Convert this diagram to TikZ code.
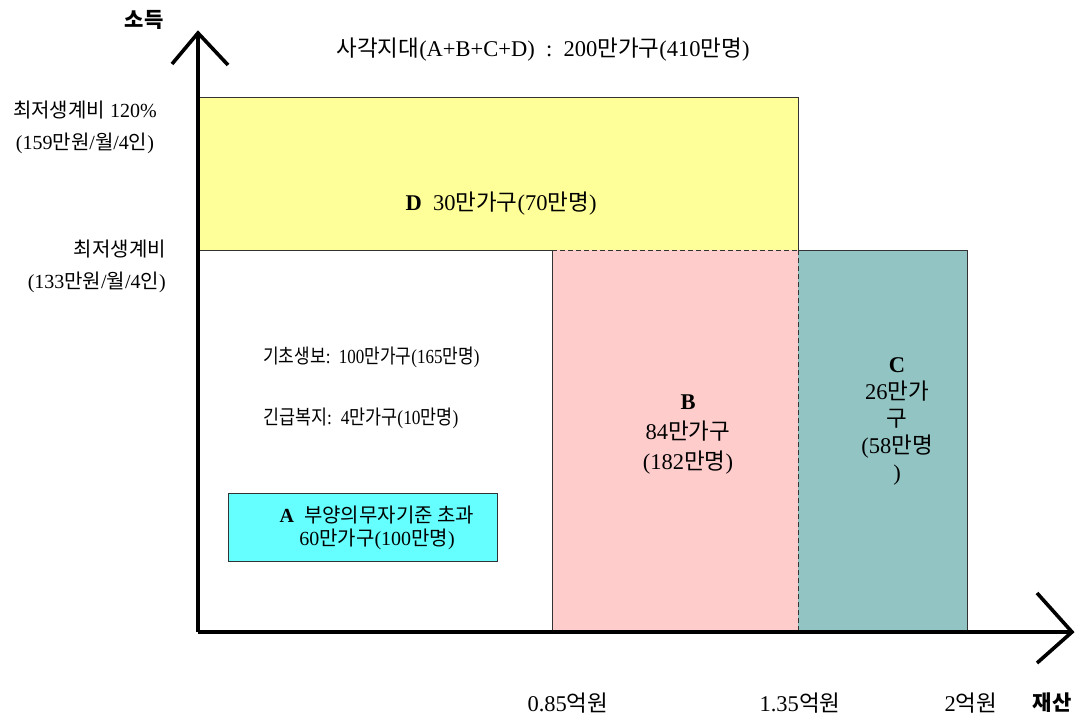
\documentclass[tikz,border=0pt]{standalone}
\usepackage{fontspec}
\setmainfont{Liberation Serif}
\newfontfamily\kr{Noto Sans CJK KR}
\newcommand\K[1]{{\kr #1}}
\definecolor{dyellow}{HTML}{FFFF99}
\definecolor{bpink}{HTML}{FFCCCC}
\definecolor{cteal}{HTML}{93C4C4}
\definecolor{acyan}{HTML}{66FFFF}
\definecolor{edge}{HTML}{333333}
\tikzset{
  region/.style={inner sep=0pt, outer sep=0pt, draw=none, anchor=north west},
  edgeline/.style={draw=edge, line width=0.9pt},
  dashedge/.style={draw=edge, line width=0.9pt, dashed, dash pattern=on 5pt off 3pt},
  axis/.style={draw=black, line width=3.6pt, line join=miter},
  txt/.style={inner sep=0pt, font=\fontsize{22.5}{28}\selectfont, text=black},
  small/.style={inner sep=0pt, font=\fontsize{20}{32}\selectfont, text=black},
  boldlab/.style={inner sep=0pt, font=\fontsize{21}{28}\selectfont\bfseries, text=black}
}
\begin{document}
\begin{tikzpicture}[x=1pt,y=-1pt]
\useasboundingbox (0,0) rectangle (1091,717);
% regions
\node[region, fill=dyellow, minimum width=600, minimum height=153] (D) at (198,97) {};
\node[region, fill=bpink, minimum width=246, minimum height=382] (B) at (552,250) {};
\node[region, fill=cteal, minimum width=169, minimum height=382] (C) at (798,250) {};
\node[region, fill=acyan, draw=edge, line width=0.9pt, minimum width=269, minimum height=68] (A) at (228,493) {};
% edges
\draw[edgeline] (D.south west) -- (D.north west) -- (D.north east) -- (D.south east);
\draw[edgeline] (D.south west) -- (B.north west) -- (B.south west);
\draw[dashedge] (B.north west) -- (B.north east);
\draw[dashedge] (C.north west) -- (C.south west);
\draw[edgeline] (C.north west) -- (C.north east) -- (C.south east);
% axes
\coordinate (O) at (198,632);
\coordinate (ytip) at (198,33);
\coordinate (yl) at (172,64);
\coordinate (yr) at (228,65);
\coordinate (xtip) at (1072,632);
\coordinate (xu) at (1037,593);
\coordinate (xd) at (1037,663);
\draw[axis] (O) -- (ytip);
\draw[axis] (yl) -- (ytip) -- (yr);
\draw[axis] (O) -- (xtip);
\draw[axis] (xu) -- (xtip) -- (xd);
% axis labels
\node[boldlab] (inc) at (144,20) {\K{\bfseries 소득}};
\node[boldlab] (prop) at (1052,703) {\K{\bfseries 재산}};
% title
\node[txt] (title) at (543,50) {\K{사각지대}(A+B+C+D)\ \ :\ \ 200\K{만가구}(410\K{만명})};
% left labels
\node[small, align=center] (l1) at (85,127) {\K{최저생계비} 120\%\\(159\K{만원}/\K{월}/4\K{인})};
\node[small, align=right, anchor=east] (l2) at (166,266) {\K{최저생계비}\\(133\K{만원}/\K{월}/4\K{인})};
% D text
\node[txt] (Dt) at (501,204) {\textbf{D}\ \ 30\K{만가구}(70\K{만명})};
% white area text
\node[txt, anchor=west, font=\fontsize{20}{28}\selectfont] (t1) at (263,357) {\scalebox{0.85}[1]{\K{기초생보}:\ \ 100\K{만가구}(165\K{만명})}};
\node[txt, anchor=west, font=\fontsize{20}{28}\selectfont] (t2) at (263,418) {\scalebox{0.87}[1]{\K{긴급복지}:\ \ 4\K{만가구}(10\K{만명})}};
% A text
\node[txt, align=center, font=\fontsize{20}{23}\selectfont] (At) at (377,528) {\textbf{A}\ \ \K{부양의무자기준 초과}\\60\K{만가구}(100\K{만명})};
% B text
\node[txt, align=center, font=\fontsize{22.5}{30}\selectfont] (Bt) at (688,435) {\textbf{B}\\84\K{만가구}\\(182\K{만명})};
% C text
\node[txt, align=center, font=\fontsize{22.5}{27}\selectfont] (Ct) at (897,421) {\textbf{C}\\26\K{만가}\\\K{구}\\(58\K{만명}\\)};
% x ticks labels
\node[txt] (x1) at (568,703) {0.85\K{억원}};
\node[txt] (x2) at (800,703) {1.35\K{억원}};
\node[txt] (x3) at (971,703) {2\K{억원}};
\end{tikzpicture}
\end{document}
